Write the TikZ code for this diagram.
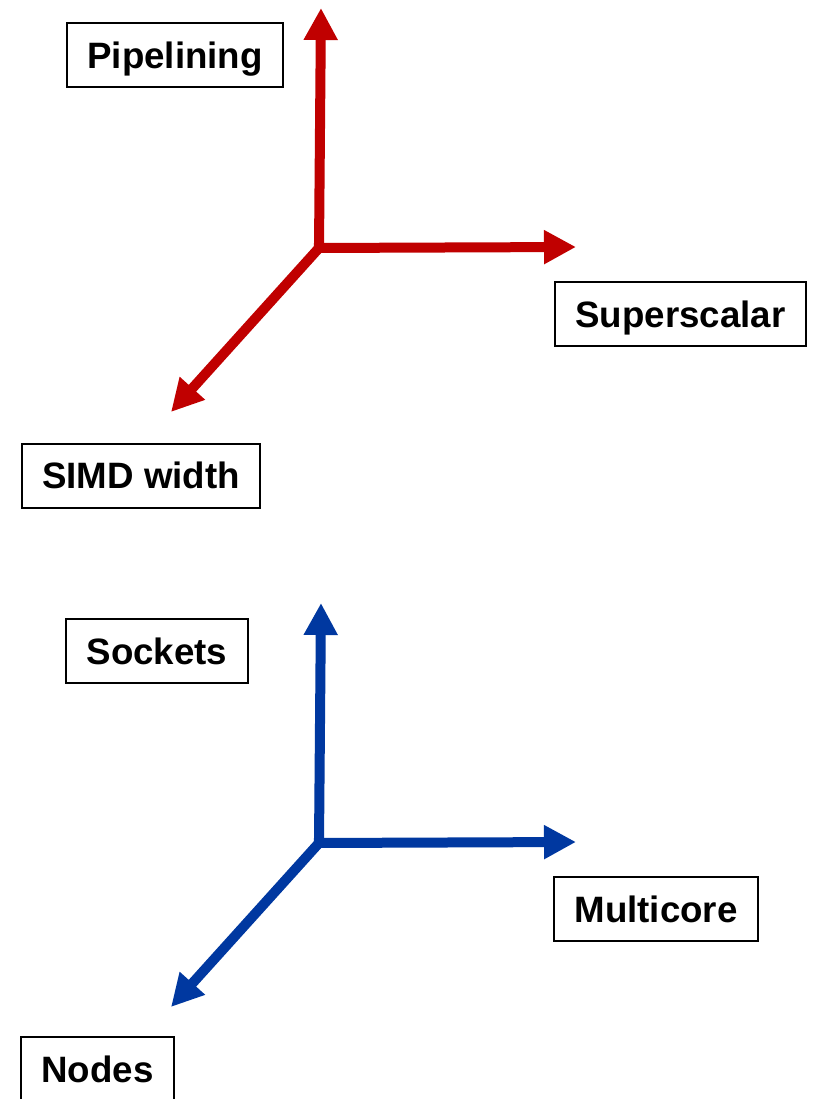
\documentclass[tikz,border=0pt]{standalone}
\usepackage{fontspec}
\setmainfont{Liberation Sans}
\usetikzlibrary{arrows.meta}
\definecolor{axisred}{RGB}{192,0,0}
\definecolor{axisblue}{RGB}{0,56,160}
\begin{document}
\begin{tikzpicture}[x=1pt,y=-1pt,
  label box/.style={draw=black, line width=2pt, fill=white,
    font=\fontsize{36.7}{44}\selectfont\bfseries,
    inner xsep=20.5pt, inner ysep=0pt, minimum height=64pt,
    text height=26.3pt, text depth=0pt},
  axis/.style={line width=10pt, -{Triangle[length=32pt,width=32pt]}}]
\useasboundingbox (0,0) rectangle (812,1099);

% upper coordinate system: instruction-level parallelism
\coordinate (o1) at (319,248);
\coordinate (t1up) at (321,8);
\coordinate (t1right) at (576,247);
\coordinate (t1diag) at (171,412);
\draw[axis, color=axisred] (o1) -- (t1up);
\draw[axis, color=axisred] ([xshift=-5pt]o1) -- (t1right);
\draw[axis, color=axisred] (o1) -- (t1diag);

\node[label box] (pipe) at (175,55) {Pipelining};
\node[label box] (super) at (680.5,314) {Superscalar};
\node[label box] (simd) at (141,475.5) {SIMD width};

% lower coordinate system: machine-level parallelism
\coordinate (o2) at (319,843);
\coordinate (t2up) at (321,603);
\coordinate (t2right) at (576,842);
\coordinate (t2diag) at (171,1007);
\draw[axis, color=axisblue] (o2) -- (t2up);
\draw[axis, color=axisblue] ([xshift=-5pt]o2) -- (t2right);
\draw[axis, color=axisblue] (o2) -- (t2diag);

\node[label box] (sock) at (157,651) {Sockets};
\node[label box] (multi) at (656,909) {Multicore};
\node[label box] (nodes) at (97.5,1069) {Nodes};
\end{tikzpicture}
\end{document}
